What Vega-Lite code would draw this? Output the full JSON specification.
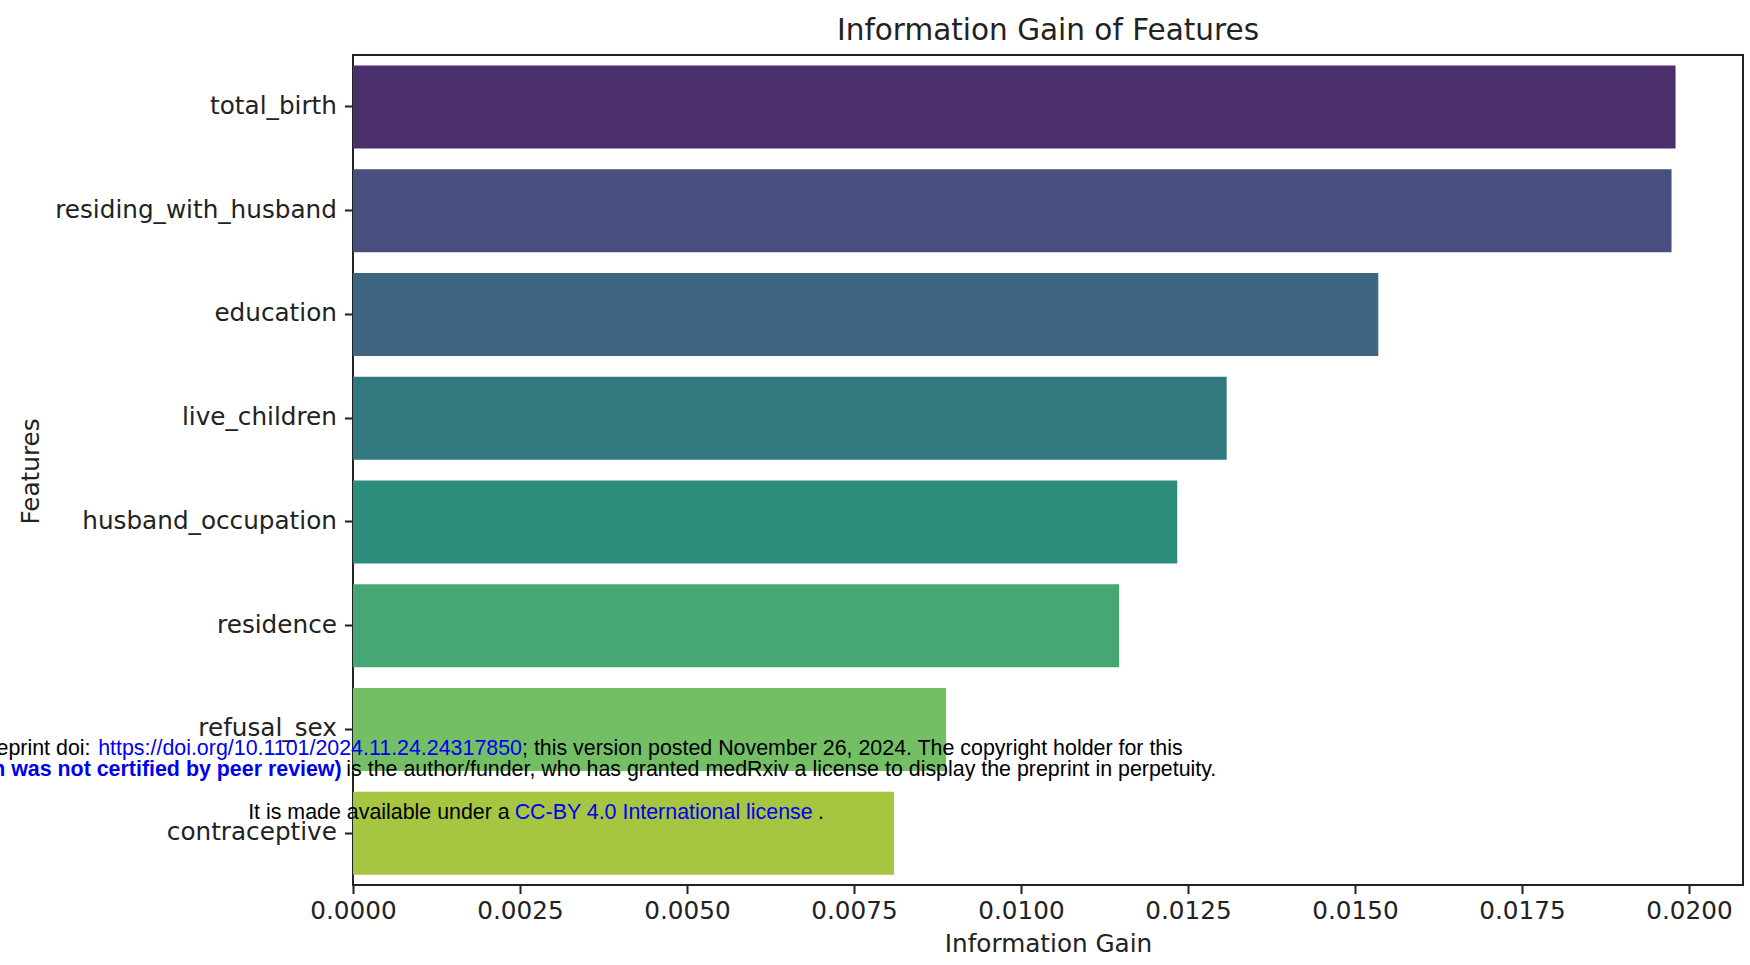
{
  "$schema": "https://vega.github.io/schema/vega-lite/v6.json",
  "autosize": {"type": "none"},
  "width": 1390,
  "height": 830,
  "padding": {"left": 353, "top": 55, "right": 7, "bottom": 80},
  "background": "white",
  "config": {
    "view": {"stroke": "#222222", "strokeWidth": 2},
    "font": "DejaVu Sans"
  },
  "title": {
    "text": "Information Gain of Features",
    "font": "DejaVu Sans",
    "fontSize": 29.5,
    "fontWeight": "normal",
    "color": "#222222",
    "anchor": "middle",
    "baseline": "alphabetic",
    "offset": 15,
    "dy": 29
  },
  "layer": [
    {
      "data": {
        "values": [
          {"feature": "total_birth", "gain": 0.01980},
          {"feature": "residing_with_husband", "gain": 0.01974},
          {"feature": "education", "gain": 0.01535},
          {"feature": "live_children", "gain": 0.01308},
          {"feature": "husband_occupation", "gain": 0.01234},
          {"feature": "residence", "gain": 0.01147},
          {"feature": "refusal_sex", "gain": 0.00888},
          {"feature": "contraceptive", "gain": 0.00810}
        ]
      },
      "mark": {"type": "bar"},
      "encoding": {
        "y": {
          "field": "feature",
          "type": "nominal",
          "sort": null,
          "scale": {"paddingInner": 0.2, "paddingOuter": 0.1},
          "axis": {
            "title": "Features",
            "titleFont": "DejaVu Sans",
            "titleFontSize": 24.7,
            "titleFontWeight": "normal",
            "titleColor": "#222222",
            "titleAngle": -90,
            "titleX": -322,
            "titleY": 416,
            "titleAlign": "center",
            "titleBaseline": "middle",
            "labelFont": "DejaVu Sans",
            "labelFontSize": 24.7,
            "labelColor": "#222222",
            "labelLimit": 500,
            "labelPadding": 8,
            "tickSize": 8.6,
            "tickWidth": 2,
            "tickColor": "#222222",
            "domain": false,
            "grid": false
          }
        },
        "x": {
          "field": "gain",
          "type": "quantitative",
          "scale": {"domain": [0, 0.02081], "nice": false, "zero": true},
          "axis": {
            "title": "Information Gain",
            "titleFont": "DejaVu Sans",
            "titleFontSize": 24.7,
            "titleFontWeight": "normal",
            "titleColor": "#222222",
            "titleY": 59,
            "titleBaseline": "middle",
            "values": [0, 0.0025, 0.005, 0.0075, 0.01, 0.0125, 0.015, 0.0175, 0.02],
            "format": ".4f",
            "labelFont": "DejaVu Sans",
            "labelFontSize": 24.7,
            "labelColor": "#222222",
            "labelPadding": 5,
            "labelFlush": false,
            "labelOverlap": false,
            "tickSize": 8.6,
            "tickWidth": 2,
            "tickColor": "#222222",
            "domain": false,
            "grid": false
          }
        },
        "color": {
          "field": "feature",
          "type": "nominal",
          "sort": null,
          "legend": null,
          "scale": {
            "domain": ["total_birth", "residing_with_husband", "education", "live_children", "husband_occupation", "residence", "refusal_sex", "contraceptive"],
            "range": ["#4a2f6c", "#484f7e", "#3e6581", "#31787f", "#2c8d7c", "#47a774", "#74bf66", "#a6c540"]
          }
        }
      }
    },
    {
      "data": {"values": [{"t": "medRxiv preprint doi:"}]},
      "mark": {"type": "text", "font": "Liberation Sans", "fontSize": 21.4, "color": "#000000", "align": "right", "baseline": "middle", "dy": 20},
      "encoding": {"x": {"datum": -0.00393}, "y": {"datum": "refusal_sex"}, "text": {"field": "t"}}
    },
    {
      "data": {"values": [{"t": "https://doi.org/10.1101/2024.11.24.24317850"}]},
      "mark": {"type": "text", "font": "Liberation Sans", "fontSize": 21.4, "color": "#0000ee", "align": "right", "baseline": "middle", "dy": 20},
      "encoding": {"x": {"datum": 0.00253}, "y": {"datum": "refusal_sex"}, "text": {"field": "t"}}
    },
    {
      "data": {"values": [{"t": "; this version posted November 26, 2024. The copyright holder for this"}]},
      "mark": {"type": "text", "font": "Liberation Sans", "fontSize": 21.4, "color": "#000000", "align": "left", "baseline": "middle", "dy": 20},
      "encoding": {"x": {"datum": 0.00253}, "y": {"datum": "refusal_sex"}, "text": {"field": "t"}}
    },
    {
      "data": {"values": [{"t": "preprint (which was not certified by peer review)"}]},
      "mark": {"type": "text", "font": "Liberation Sans", "fontSize": 21.4, "fontWeight": "bold", "color": "#0000ee", "align": "right", "baseline": "middle", "dy": 41},
      "encoding": {"x": {"datum": -0.00017}, "y": {"datum": "refusal_sex"}, "text": {"field": "t"}}
    },
    {
      "data": {"values": [{"t": " is the author/funder, who has granted medRxiv a license to display the preprint in perpetuity."}]},
      "mark": {"type": "text", "font": "Liberation Sans", "fontSize": 21.4, "color": "#000000", "align": "left", "baseline": "middle", "dy": 41},
      "encoding": {"x": {"datum": -0.0001}, "y": {"datum": "refusal_sex"}, "text": {"field": "t"}}
    },
    {
      "data": {"values": [{"t": "It is made available under a "}]},
      "mark": {"type": "text", "font": "Liberation Sans", "fontSize": 21.4, "color": "#000000", "align": "left", "baseline": "middle", "dy": -20},
      "encoding": {"x": {"datum": -0.00157}, "y": {"datum": "contraceptive"}, "text": {"field": "t"}}
    },
    {
      "data": {"values": [{"t": "CC-BY 4.0 International license"}]},
      "mark": {"type": "text", "font": "Liberation Sans", "fontSize": 21.4, "color": "#0000ee", "align": "left", "baseline": "middle", "dy": -20},
      "encoding": {"x": {"datum": 0.00242}, "y": {"datum": "contraceptive"}, "text": {"field": "t"}}
    },
    {
      "data": {"values": [{"t": "."}]},
      "mark": {"type": "text", "font": "Liberation Sans", "fontSize": 21.4, "color": "#000000", "align": "left", "baseline": "middle", "dy": -20},
      "encoding": {"x": {"datum": 0.00696}, "y": {"datum": "contraceptive"}, "text": {"field": "t"}}
    }
  ]
}
